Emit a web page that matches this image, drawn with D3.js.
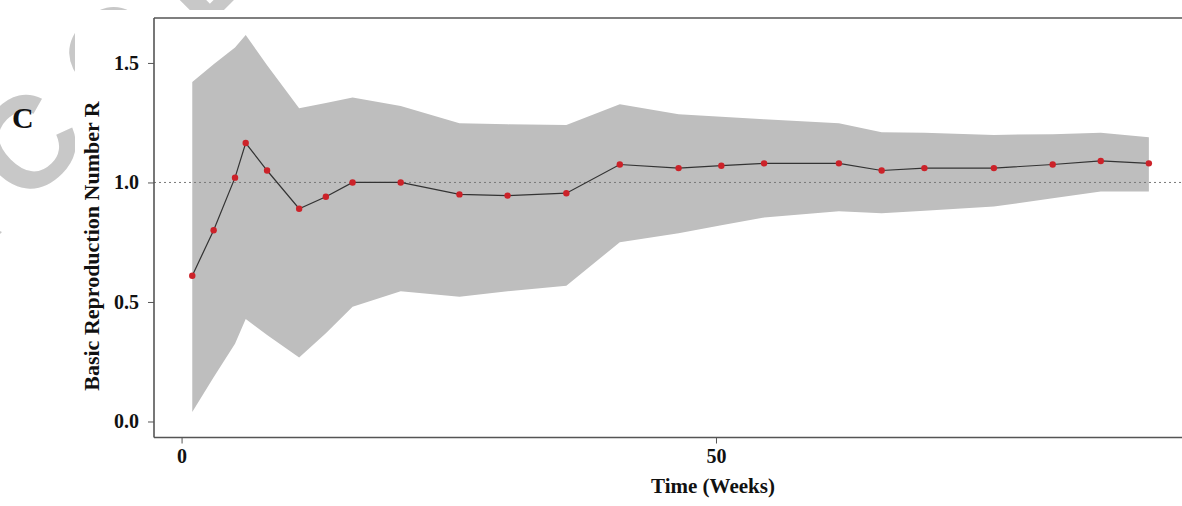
<!DOCTYPE html>
<html>
<head>
<meta charset="utf-8">
<script src="https://cdn.jsdelivr.net/npm/d3@7"></script>
<style>
  body { margin: 0; background: #fff; }
  svg { display: block; }
</style>
</head>
<body>
<div id="container"></div>
<script>
// values (time in weeks, R estimate and its band)
let weeks = [1, 3, 5, 6, 8, 11, 13.5, 16, 20.5, 26, 30.5, 36, 41, 46.5, 50.5, 54.5, 61.5, 65.5, 69.5, 76, 81.5, 86, 90.5];
let rValues = [0.61, 0.80, 1.02, 1.165, 1.05, 0.89, 0.94, 1.00, 1.00, 0.95, 0.945, 0.955, 1.075, 1.06, 1.07, 1.08, 1.08, 1.05, 1.06, 1.06, 1.075, 1.09, 1.08];
let upperBand = [1.42, 1.495, 1.565, 1.617, 1.49, 1.31, 1.332, 1.355, 1.32, 1.248, 1.243, 1.24, 1.327, 1.285, 1.275, 1.264, 1.248, 1.21, 1.208, 1.199, 1.202, 1.208, 1.189];
let lowerBand = [0.04, 0.185, 0.325, 0.429, 0.362, 0.268, 0.369, 0.48, 0.545, 0.522, 0.545, 0.568, 0.75, 0.787, 0.821, 0.853, 0.88, 0.871, 0.882, 0.899, 0.934, 0.962, 0.962];
let yTicks = [0, 0.5, 1.0, 1.5];
let xTicks = [0, 50];

let data = weeks.map((w, i) => ({ week: w, r: rValues[i], lo: lowerBand[i], hi: upperBand[i] }));

let width = 1182, height = 506;
let plotLeft = 154, plotTop = 18, plotBottom = 437.5;

let svg = d3.select('#container')
    .append('svg')
    .attr('width', width)
    .attr('height', height);

// watermark (mostly hidden under the figure)
svg.append('text')
    .attr('transform', 'translate(-62,296) rotate(-45)')
    .attr('font-family', 'Liberation Sans, Arial, sans-serif')
    .attr('font-weight', 'bold')
    .attr('font-size', 130)
    .attr('letter-spacing', 30)
    .attr('fill', '#c8c8c8')
    .text('ACCEPT');

// figure background covering the watermark
svg.append('rect')
    .attr('x', 75).attr('y', 10)
    .attr('width', width - 75).attr('height', height - 10)
    .attr('fill', '#fff');

let x = d3.scaleLinear().domain([-2.58, 93.6]).range([plotLeft, width]);
let y = d3.scaleLinear().domain([-0.067, 1.688]).range([plotBottom, plotTop]);

let area = d3.area()
    .x(d => x(d.week))
    .y0(d => y(d.lo))
    .y1(d => y(d.hi));

svg.append('path')
    .datum(data)
    .attr('d', area)
    .attr('fill', '#bebebe');

// reference line R = 1
svg.append('line')
    .attr('x1', plotLeft).attr('x2', width)
    .attr('y1', y(1)).attr('y2', y(1))
    .attr('stroke', '#7a7a7a')
    .attr('stroke-width', 1)
    .attr('stroke-dasharray', '2,3');

let line = d3.line()
    .x(d => x(d.week))
    .y(d => y(d.r));

svg.append('path')
    .datum(data)
    .attr('d', line)
    .attr('fill', 'none')
    .attr('stroke', '#333')
    .attr('stroke-width', 1.2);

svg.selectAll('circle')
    .data(data)
    .enter()
    .append('circle')
    .attr('cx', d => x(d.week))
    .attr('cy', d => y(d.r))
    .attr('r', 3.2)
    .attr('fill', '#cc2229');

// frame
let frame = svg.append('g').attr('stroke', '#555').attr('stroke-width', 1.6).attr('fill', 'none');
frame.append('line').attr('x1', plotLeft).attr('x2', plotLeft).attr('y1', plotTop).attr('y2', plotBottom);
frame.append('line').attr('x1', plotLeft).attr('x2', width).attr('y1', plotTop).attr('y2', plotTop);
frame.append('line').attr('x1', plotLeft).attr('x2', width).attr('y1', plotBottom).attr('y2', plotBottom);

let font = 'Liberation Serif, Times New Roman, serif';

let yAxis = svg.append('g')
    .attr('transform', `translate(${plotLeft},0)`)
    .call(d3.axisLeft(y).tickValues(yTicks).tickFormat(d3.format('.1f')).tickSize(6).tickPadding(9));
yAxis.select('.domain').remove();

let xAxis = svg.append('g')
    .attr('transform', `translate(0,${plotBottom})`)
    .call(d3.axisBottom(x).tickValues(xTicks).tickFormat(d3.format('d')).tickSize(6).tickPadding(5));
xAxis.select('.domain').remove();

svg.selectAll('.tick line').attr('stroke', '#555');
svg.selectAll('.tick text')
    .attr('font-family', font)
    .attr('font-weight', 'bold')
    .attr('font-size', 20)
    .attr('fill', '#111');

svg.append('text')
    .attr('x', 713).attr('y', 493)
    .attr('text-anchor', 'middle')
    .attr('font-family', font)
    .attr('font-weight', 'bold')
    .attr('font-size', 21)
    .attr('fill', '#111')
    .text('Time (Weeks)');

svg.append('text')
    .attr('transform', 'translate(99,246) rotate(-90)')
    .attr('text-anchor', 'middle')
    .attr('font-family', font)
    .attr('font-weight', 'bold')
    .attr('font-size', 22)
    .attr('fill', '#111')
    .text('Basic Reproduction Number R');

svg.append('text')
    .attr('x', 12).attr('y', 128)
    .attr('font-family', font)
    .attr('font-weight', 'bold')
    .attr('font-size', 30)
    .attr('fill', '#111')
    .text('C');
</script>
</body>
</html>
